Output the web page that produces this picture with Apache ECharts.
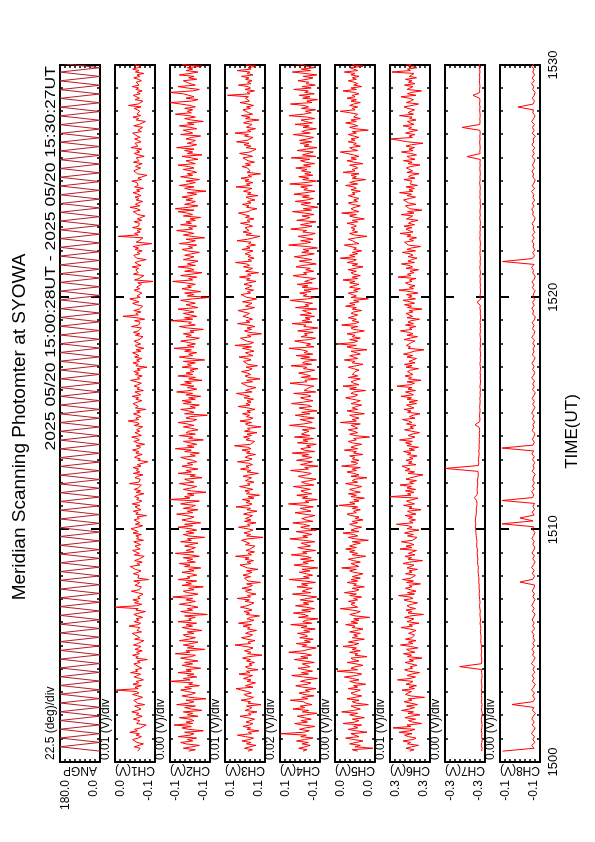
<!DOCTYPE html>
<html><head><meta charset="utf-8">
<script src="https://cdn.jsdelivr.net/npm/echarts@6/dist/echarts.min.js"></script>
<style>
html,body{margin:0;padding:0;background:#fff;width:595px;height:842px;overflow:hidden;}
#chart{position:absolute;left:0;top:0;width:842px;height:595px;transform-origin:0 0;transform:translate(0,842px) rotate(-90deg);background:#fff;}
</style></head><body><div id="chart"></div>
<script>
// ---- text ----
const titleText = 'Meridian Scanning Photomter at SYOWA';
const subtitleText = '2025 05/20 15:00:28UT - 2025 05/20 15:30:27UT';
const timeAxisName = 'TIME(UT)';
const timeTickLabels = ['1500', '1510', '1520', '1530'];
const axisNames = ['ANGP', 'CH1(V)', 'CH2(V)', 'CH3(V)', 'CH4(V)', 'CH5(V)', 'CH6(V)', 'CH7(V)', 'CH8(V)'];
const scaleLabels = ['22.5 (deg)/div', '0.01 (V)/div', '0.00 (V)/div', '0.01 (V)/div', '0.02 (V)/div', '0.00 (V)/div', '0.01 (V)/div', '0.00 (V)/div', '0.00 (V)/div'];
const topTickLabels = ['180.0', '0.0', '-0.1', '0.1', '0.1', '0.0', '0.3', '-0.3', '-0.1'];
const bottomTickLabels = ['0.0', '-0.1', '-0.1', '0.1', '-0.1', '0.0', '0.3', '-0.3', '-0.1'];
// value ranges (ANGP in deg, channels in mV)
const axisMin = [0, -100, -130, 60, -80, 0, 260, -330, -130];
const axisMax = [180, 0, -100, 140, 80, 30, 340, -300, -100];
// record span, minutes after 15:00 UT
const recordStart = 0.467;
const recordEnd = 30.45;

// ---- data (uniformly sampled over the record) ----
const angp = [0,180,0,180,0,180,0,180,0,180,0,180,0,180,0,180,0,180,0,180,
0,180,0,180,0,180,0,180,0,180,0,180,0,180,0,180,0,180,0,180,
0,180,0,180,0,180,0,180,0,180,0,180,0,180,0,180,0,180,0,180,
0,180,0,180,0,180,0,180,0,180,0,180,0,180,0,180,0,180,0,180,
0,180,0,180,0,180,0,180,0,180,0,180,0,180,0,180,0,180,0,180,
0,180,0,180,0,180,0,180,0,180,0,180,0,180,0,180,0,180,0,180,
0,180,0,180,0,180,0,180,0,180,0,180,0,180,0,180,0,180,0,180,
0,180,0,180,0,180,0,180,0,180,0,180,0,180,0,180,0,180,0,180];

const ch1 = [-57,-52,-63,-48,-60,-71,-55,-50,-44,-58,-66,-53,-61,-37,-56,-49,-64,-59,-78,-54,
-51,-62,-46,-57,-68,-53,-60,-42,-55,-65,-58,-49,-74,-56,-61,-47,-52,-69,-57,-44,
-60,-54,-3,-58,-50,-66,-45,-59,-53,-71,-62,-48,-56,-64,-39,-57,-51,-67,-60,-55,
-47,-63,-56,-81,-52,-58,-44,-61,-54,-68,-50,-59,-65,-46,-57,-53,-72,-49,-62,-56,
-58,-43,-66,-55,-51,-62,-35,-57,-64,-48,-60,-53,-69,-56,-47,-61,-76,-52,-58,0,
-54,-67,-49,-59,-45,-63,-57,-52,-70,-56,-41,-61,-58,-66,-50,-55,-62,-47,-84,-57,
-53,-60,-46,-58,-65,-51,-56,-38,-62,-55,-68,-49,-59,-54,-73,-48,-61,-57,-44,-63,
-56,-50,-64,-59,-47,-71,-54,-60,-52,-66,-45,-58,-63,-40,-57,-69,-51,-62,-55,-48,
-61,-55,-79,-52,-58,-46,-65,-57,-50,-62,-43,-59,-67,-54,-60,-49,-56,-72,-53,-64,
-48,-58,-54,-66,-36,-60,-55,-63,-50,-57,-70,-46,-62,-53,-59,-45,-65,-56,-51,-82,
-57,-63,-49,-55,-68,-52,-60,-44,-58,-64,-53,-74,-56,-47,-61,-55,-42,-66,-59,-50,
-62,-54,-57,-69,-48,-61,-55,-33,-59,-52,-65,-57,-46,-63,-54,-77,-51,-58,-60,-45,
-56,-67,-52,-59,-43,-64,-58,-50,-71,-55,-61,-48,-57,-66,-53,-39,-62,-56,-68,-51,
-59,-47,-63,-55,-80,-52,-58,-45,-61,-54,-67,-49,-60,-57,-44,-65,-53,-72,-56,-50,
-64,-55,-48,-60,-57,-70,-51,-62,-46,-58,-53,-66,-41,-59,-56,-63,-49,-74,-55,-20,
-58,-52,-65,-47,-61,-56,-69,-53,-44,-60,-57,-37,-63,-55,-50,-67,-58,-48,-62,-54,
-51,-66,-57,-95,-49,-60,-55,-72,-46,-58,-63,-52,-59,-43,-65,-56,-50,-61,-78,-54,
-57,-47,-62,-55,-68,-50,-59,-45,-64,-92,-53,-60,-56,-70,-8,-58,-49,-63,-55,-66,
-44,-59,-54,-61,-48,-67,-56,-52,-75,-57,-60,-46,-63,-55,-38,-62,-51,-58,-69,-53,
-60,-50,-65,-57,-45,-62,-54,-71,-49,-58,-63,-55,-42,-66,-57,-52,-80,-56,-61,-47,
-55,-64,-51,-58,-68,-46,-60,-56,-53,-73,-59,-48,-62,-54,-67,-40,-57,-61,-50,-65,
-58,-49,-63,-55,-60,-44,-66,-57,-52,-69,-47,-61,-56,-76,-53,-59,-45,-64,-55,-51,
-62,-56,-48,-65,-34,-58,-54,-70,-50,-61,-57,-46,-63,-55,-68,-52,-59,-43,-60,-57,
-53,-66,-58,-47,-62,-55,-72,-51,-60,-44,-57,-64,-49,-59,-54,-67,-56,-41,-63,-58];

const ch2 = [-114,-119,-110,-116,-122,-112,-108,-117,-113,-120,-106,-115,-118,-111,-125,-114,-109,-116,-103,-117,
-112,-118,-115,-107,-121,-113,-117,-110,-124,-116,-111,-119,-105,-114,-118,-112,-127,-115,-109,-116,
-119,-113,-108,-116,-111,-122,-114,-117,-100,-115,-110,-120,-113,-118,-106,-116,-112,-123,-115,-109,
-117,-111,-121,-114,-108,-116,-119,-104,-115,-112,-126,-113,-118,-110,-116,-121,-107,-114,-119,-112,
-110,-118,-113,-124,-115,-109,-117,-112,-120,-106,-116,-114,-119,-111,-128,-115,-108,-117,-113,-121,
-116,-107,-114,-119,-112,-117,-102,-115,-121,-113,-110,-118,-114,-125,-109,-116,-112,-120,-106,-115,
-113,-120,-116,-109,-118,-114,-123,-111,-115,-107,-119,-113,-117,-110,-122,-115,-104,-118,-112,-116,
-119,-111,-115,-121,-108,-116,-113,-126,-114,-110,-118,-112,-120,-115,-106,-117,-111,-123,-114,-109,
-115,-118,-112,-105,-117,-113,-121,-110,-116,-119,-108,-114,-122,-100,-115,-111,-118,-113,-127,-116,
-110,-116,-120,-113,-107,-118,-114,-111,-124,-115,-119,-106,-116,-112,-121,-114,-109,-117,-113,-120,
-117,-112,-108,-119,-115,-122,-111,-116,-104,-118,-113,-120,-115,-110,-125,-114,-117,-107,-119,-112,
-114,-121,-116,-110,-118,-113,-106,-117,-120,-112,-115,-128,-111,-118,-114,-108,-119,-115,-122,-110,
-116,-109,-119,-114,-123,-112,-117,-105,-115,-120,-113,-118,-108,-116,-111,-124,-114,-119,-106,-117,
-112,-118,-115,-121,-109,-116,-113,-119,-110,-126,-115,-107,-117,-114,-120,-111,-116,-103,-118,-113,
-119,-114,-108,-117,-122,-112,-116,-110,-118,-115,-125,-113,-107,-119,-114,-116,-101,-117,-111,-120,
-115,-110,-118,-113,-106,-121,-116,-112,-119,-114,-108,-117,-130,-113,-118,-111,-123,-115,-109,-116,
-113,-119,-112,-102,-117,-114,-120,-108,-116,-124,-111,-118,-115,-106,-119,-113,-117,-121,-110,-115,
-118,-111,-116,-122,-113,-109,-117,-114,-120,-107,-115,-119,-112,-126,-116,-110,-118,-113,-105,-117,
-114,-120,-108,-116,-112,-119,-115,-123,-110,-117,-113,-106,-118,-104,-114,-121,-111,-116,-119,-112,
-117,-109,-115,-120,-113,-127,-116,-111,-118,-107,-114,-119,-112,-122,-115,-108,-117,-113,-120,-116,
-110,-118,-114,-106,-119,-115,-112,-121,-116,-109,-124,-113,-117,-111,-118,-105,-115,-120,-113,-117,
-119,-112,-116,-123,-108,-117,-114,-110,-120,-115,-107,-118,-113,-125,-116,-111,-119,-114,-104,-116,
-113,-117,-111,-119,-115,-108,-100,-116,-121,-112,-118,-114,-110,-100,-117,-122,-113,-106,-119,-115,
-116,-110,-120,-114,-118,-107,-115,-121,-112,-117,-113,-124,-109,-116,-119,-111,-118,-114,-105,-117];

const ch3 = [94,85,101,90,78,97,88,106,92,83,99,115,87,93,72,96,89,104,91,84,
98,90,81,95,110,88,93,76,100,91,86,97,68,94,89,108,92,83,96,102,
87,95,91,118,84,99,90,79,96,88,103,93,85,112,90,97,74,94,99,86,
92,81,97,89,105,93,66,95,88,101,91,84,98,120,89,94,80,96,107,90,
85,99,92,77,95,90,104,87,113,93,82,96,89,71,98,91,102,86,94,109,
96,88,82,100,91,116,89,95,78,93,99,87,106,92,85,97,69,94,90,101,
89,104,93,86,97,74,95,91,110,88,96,83,100,92,119,87,94,81,98,90,
93,80,99,91,87,107,94,64,97,89,102,92,84,96,113,90,95,78,101,88,
99,91,85,103,93,76,96,89,118,92,86,98,90,105,82,94,71,97,91,100,
84,97,111,90,95,82,99,93,87,104,91,73,96,88,109,92,98,85,93,115,
92,86,100,94,79,97,90,106,88,95,121,89,93,81,98,91,103,87,96,76,
101,90,95,68,93,99,87,110,92,84,97,91,105,89,96,80,94,114,90,98,
88,96,83,102,91,94,117,86,99,90,78,95,92,107,85,97,70,93,100,89,
95,107,91,86,98,75,94,90,103,88,96,112,84,93,99,82,91,105,87,120,
90,83,97,93,109,88,95,67,92,101,87,96,80,94,115,90,98,85,93,104,
97,91,88,114,94,81,99,92,86,105,90,77,96,93,108,89,95,83,100,91,
86,102,93,78,97,90,111,88,95,73,99,92,85,103,91,96,119,87,94,82,
94,89,100,92,84,106,90,97,79,93,88,116,95,91,70,98,87,104,92,96,
100,85,93,109,90,96,82,99,91,87,113,94,89,76,97,92,105,88,95,80,
91,98,74,95,88,103,93,86,118,90,97,84,100,92,108,87,94,69,96,90,
87,95,106,89,99,81,94,91,104,85,96,111,90,93,78,98,88,102,92,117,
96,90,84,101,93,120,88,95,79,97,91,86,103,94,72,99,90,107,85,93,
92,104,89,97,83,95,110,91,87,99,93,135,90,96,81,100,89,94,113,88,
95,86,99,92,107,84,96,90,116,88,94,78,98,91,103,87,95,71,97,93];

const ch4 = [-12,-28,5,-20,-41,-8,-33,14,-18,-52,-3,-25,78,-15,-37,2,-22,-60,-10,21,
-30,-5,-45,-17,11,-26,-68,-9,-35,28,-19,-1,-48,-23,-13,39,-31,-7,-56,-16,
4,-38,-21,-64,-11,17,-29,-44,-2,-24,-70,-14,33,-34,-6,-50,-19,8,-40,-26,
-9,-57,-17,23,-32,-3,-46,-22,45,-12,-36,-65,-8,-27,15,-42,-18,-53,1,-30,
-21,10,-39,-15,-61,-4,-28,37,-47,-11,-23,-72,6,-33,-16,26,-44,-7,-58,-25,
18,-35,-13,-54,-1,-29,-67,-20,30,-43,-9,-24,-49,12,-31,-6,-62,-18,43,-37,
-14,-50,-26,3,-40,-8,-71,-19,24,-33,-12,-56,-2,-45,-22,35,-28,-10,-63,-17,
9,-42,-24,-5,-59,-15,41,-31,-11,-48,-20,16,-66,-27,-3,-39,-14,29,-52,-23,
-7,-33,-60,-16,20,-44,-25,-1,-53,-13,46,-36,-21,-69,-9,-30,13,-47,-18,-4,
-41,-11,27,-55,-23,-6,-38,-64,-15,7,-29,-45,-10,38,-34,-19,-72,-2,-27,-50,
14,-22,-47,-8,-35,31,-58,-17,-3,-43,-26,-65,10,-32,-12,-54,22,-39,-6,-20,
-36,-9,-61,-24,42,-14,-49,-28,-1,-57,-18,19,-40,-7,-68,-25,4,-46,-30,34,
-13,-52,-21,-2,-44,-31,25,-63,-16,-8,-37,-55,-11,40,-28,-19,-70,-5,-42,-23,
6,-34,-59,-14,-27,36,-46,-10,-22,-66,-3,-39,15,-51,-17,-30,-7,44,-56,-25,
-43,-12,21,-37,-62,-4,-29,-18,-53,9,-33,-71,-15,-24,32,-48,-9,-40,-20,-58,
-1,-45,-26,-10,-67,18,-35,-21,-50,-6,39,-31,-60,-13,-28,1,-44,-16,-73,-8,
-32,11,-49,-19,-38,-62,-5,28,-27,-14,-55,-23,-41,16,-9,-65,-30,3,-47,-15,
23,-24,-57,-7,-36,-12,-69,-29,45,-18,-43,-3,-52,-22,8,-38,-61,-11,-26,37,
-17,-48,-2,-33,-64,13,-25,-40,-8,-56,-20,30,-46,-13,-71,-31,-4,-42,19,-27,
-54,-9,-37,24,-21,-60,-15,-30,-3,-49,41,-24,-66,-11,-35,5,-51,-19,-44,-6,
-28,17,-43,-14,-58,-23,-2,-39,35,-63,-10,-32,-53,12,-26,-68,-16,-36,-1,-47,
2,-31,-55,-18,27,-41,-7,-24,-65,-12,-37,20,-50,-21,-4,-59,-29,44,-14,-45,
-22,-62,-6,-34,-16,38,-48,-27,-70,-11,-40,3,-57,-19,-33,25,-45,-9,-61,-24,
-35,8,-28,-52,-13,-67,-20,31,-42,-5,-58,-25,-15,42,-38,-64,-10,-30,-49,15];

const ch5 = [13,17,1.5,15,11,19,14,9,16,22,12,15,18,6,14,20,13,16,10,24,
15,12,17,8,14,19,13,25,16,11,15,18,5,14,17,12,21,15,10,16,
18,14,11,20,13,16,7,15,19,12,17,23,14,10,16,28.5,13,18,15,9,
14,21,12,16,18,6,15,13,19,11,17,14,24,16,12,20,15,8,17,13,
16,11,19,14,9,17,15,22,13,18,12,16,4,15,19,14,11,17,26,13,
12,18,15,20,13,16,10,19,14,23,15,12,17,8,16,14,21,13,18,11,
17,13,9,16,19,14,25,12,15,18,11,16,20,14,7,17,13,19,15,22,
14,19,16,11,17,5,15,20,13,16,24,12,18,15,10,16,19,13,17,9,
15,12,18,21,14,16,11,17,13,27,15,19,12,16,8,18,14,20,11,16,
19,14,10,16,22,13,17,15,6,18,12,16,21,14,17,11,25,15,13,18,
12,17,15,19,9,16,14,23,13,18,15,10,17,20,14,16,4,15,19,13,
16,20,13,15,18,11,26,14,17,12,16,19,8,15,21,13,17,14,10,18,
14,11,17,22,15,13,18,16,7,19,14,24,12,16,18,15,11,20,13,17,
18,15,12,16,20,14,9,17,15,23,13,16,19,11,14,18,6,16,21,14,
28,16,13,19,11,17,15,21,14,8,16,18,13,25,15,12,17,14,20,16,
13,18,16,10,17,14,22,15,19,12,16,5,18,14,17,20,13,16,11,19,
16,12,19,15,24,13,17,11,16,18,14,20,15,9,17,13,21,16,14,26,
15,19,13,17,10,16,14,18,23,12,15,17,20,14,6,16,19,13,17,15,
18,14,16,21,13,17,8,15,19,14,25,12,16,18,15,11,17,20,13,16,
12,16,20,15,17,11,18,14,16,22,13,19,15,7,17,14,18,12,24,15,
17,13,15,19,9,16,21,14,18,12,16,15,26,13,17,19,11,16,14,20,
15,18,12,16,20,14,17,5,15,19,13,16,22,14,18,11,16,17,13,19,
26,15,17,13,19,16,11,18,14,21,15,17,12,16,24,14,18,10,16,13,
16,20,14,17,12,18,15,23,13,16,19,9,17,14,20,15,12,18,16,14];

const ch6 = [301,292,308,297,283,305,299,314,294,288,303,311,296,322,300,290,334,298,306,277,
295,303,289,310,299,280,304,293,317,301,291,307,285,298,312,296,303,271,299,309,
304,297,316,291,302,287,308,299,294,325,300,289,306,297,281,303,311,295,300,286,
298,310,293,302,276,305,297,313,290,301,307,284,299,319,294,303,288,309,296,300,
291,303,307,288,300,318,295,302,282,306,298,292,311,299,273,304,296,308,289,301,
306,297,285,303,312,294,300,323,291,305,288,299,309,296,302,279,307,293,315,298,
300,289,309,296,302,285,306,298,292,314,301,275,304,297,310,290,303,299,287,320,
296,308,292,301,317,295,299,286,305,293,311,300,282,306,296,303,327,294,301,289,
303,295,310,288,299,305,278,302,296,313,291,300,307,294,284,340,298,305,292,309,
289,306,297,320,293,301,287,308,299,295,274,304,291,310,300,297,316,288,303,296,
308,294,301,286,305,298,313,291,302,283,306,297,309,295,321,299,290,304,296,281,
297,311,293,300,288,307,296,303,315,290,301,294,280,305,298,312,292,300,307,287,
302,285,306,297,318,293,300,309,289,304,296,326,299,291,306,278,303,297,310,294,
293,305,299,283,308,296,311,290,302,298,287,306,295,313,301,292,272,304,299,307,
305,297,290,312,300,285,306,294,303,319,296,301,288,309,293,304,298,281,306,295,
299,308,294,302,276,305,297,311,291,300,314,289,303,296,307,284,299,322,293,301,
290,303,309,296,301,288,324,298,305,292,300,283,308,295,302,317,291,304,297,286,
304,294,300,315,289,306,297,279,303,299,311,293,301,287,306,298,320,294,302,308,
296,312,291,303,298,284,307,300,295,318,292,305,276,301,297,309,288,303,299,313,
301,289,306,297,321,294,302,291,308,285,300,304,296,312,290,303,298,282,306,295,
293,307,299,280,304,296,313,290,301,306,287,299,317,294,302,291,308,297,274,305,
306,338,295,302,290,309,298,285,303,297,314,292,300,305,288,301,296,321,293,304,
298,291,304,312,296,283,307,299,293,302,318,288,305,297,277,306,300,294,311,290,
303,296,309,287,301,297,292,336,299,305,286,303,298,316,294,300,307,281,302,296];

const ch7 = [-327.5,-327.8,-327.2,-327.6,-327.9,-327.4,-327.7,-327.3,-327.6,-327.8,-327.5,-327.2,-327.6,-327.9,-327.4,-327.5,-327.8,-327.3,-327.6,-327.4,
-327.6,-327.3,-327.7,-327.5,-327.2,-327.6,-327.8,-327.4,-327.5,-311.0,-327.3,-327.6,-327.4,-327.1,-327.5,-327.2,-327.4,-327.0,-326.8,-327.1,
-326.8,-326.5,-326.9,-326.6,-326.3,-326.7,-326.4,-326.2,-326.5,-326.1,-325.9,-326.3,-326.0,-325.8,-325.6,-325.9,-325.5,-325.7,-325.3,-325.5,
-325.2,-325.0,-324.8,-325.1,-324.6,-324.4,-324.7,-324.3,-324.1,-324.4,-323.9,-323.7,-324.0,-323.6,-323.4,-323.2,-323.0,-322.8,-323.1,-322.7,
-322.9,-323.3,-323.6,-323.4,-323.8,-324.0,-323.7,-322.0,-324.1,-324.3,-324.0,-324.4,-324.6,-324.3,-324.8,-325.0,-324.7,-300.0,-325.1,-325.3,
-325.0,-325.4,-325.6,-325.3,-325.7,-325.5,-325.8,-325.6,-325.9,-325.7,-326.0,-325.8,-322.5,-326.0,-326.2,-325.9,-326.1,-326.3,-326.0,-326.2,
-326.4,-326.1,-326.5,-326.3,-326.6,-326.2,-326.5,-326.7,-326.4,-326.6,-326.3,-326.7,-326.5,-326.2,-326.6,-326.4,-326.8,-326.5,-326.3,-326.6,
-326.4,-326.7,-326.5,-326.2,-326.6,-326.4,-326.7,-326.3,-326.5,-326.8,-326.4,-326.6,-326.2,-326.5,-324.0,-326.6,-326.3,-326.5,-326.7,-326.4,
-326.6,-326.3,-326.5,-326.2,-326.6,-326.4,-326.1,-326.5,-326.3,-326.6,-326.4,-326.2,-326.5,-326.3,-326.6,-326.4,-326.1,-326.4,-326.2,-326.5,
-326.3,-326.6,-326.4,-326.1,-326.5,-326.2,-326.4,-326.6,-326.3,-326.5,-326.1,-326.4,-326.2,-326.5,-326.3,-326.0,-326.4,-326.2,-326.5,-326.3,
-326.1,-326.4,-326.2,-326.5,-316.5,-326.3,-326.1,-326.4,-326.2,-326.0,-326.3,-326.1,-326.4,-326.2,-312.8,-326.0,-326.3,-326.1,-326.4,-326.2,
-326.0,-326.3,-325.9,-326.2,-326.0,-321.0,-326.1,-325.9,-326.2,-326.0,-325.8,-326.1,-325.9,-326.2,-326.0,-325.8,-326.1,-325.9,-326.0,-326.2];

const ch8 = [-102.0,-125.5,-123.8,-126.2,-124.6,-125.9,-123.5,-125.2,-126.4,-124.1,-125.7,-123.9,-125.0,-126.6,-124.3,-125.4,-109.0,-124.8,-126.1,-124.5,
-125.8,-123.7,-125.3,-126.5,-124.2,-125.6,-124.0,-126.2,-124.7,-125.9,-123.6,-125.1,-126.3,-124.4,-125.5,-123.9,-125.8,-124.6,-126.0,-124.9,
-125.4,-123.8,-126.1,-124.5,-125.7,-124.1,-125.2,-126.4,-124.3,-125.6,-123.9,-125.0,-126.2,-124.7,-125.8,-124.2,-125.5,-126.0,-115.0,-124.6,
-125.9,-124.3,-125.6,-123.7,-125.2,-126.3,-124.5,-125.8,-124.0,-125.4,-126.1,-124.6,-125.7,-123.9,-125.3,-126.2,-124.4,-125.1,-101.5,-124.8,
-115.0,-125.6,-124.2,-125.9,-124.7,-126.0,-101.5,-124.5,-125.3,-123.8,-125.7,-124.3,-125.9,-124.6,-125.2,-126.4,-124.1,-125.5,-124.8,-126.1,
-124.4,-125.7,-123.9,-125.3,-101.5,-124.6,-125.8,-124.2,-125.5,-126.3,-124.0,-125.4,-124.7,-126.0,-124.3,-125.6,-123.8,-125.1,-126.2,-124.5,
-125.8,-124.1,-125.4,-126.5,-124.3,-125.7,-124.6,-125.9,-123.7,-125.2,-126.1,-124.4,-125.6,-124.0,-125.3,-126.4,-124.2,-125.5,-124.8,-126.0,
-124.6,-125.9,-123.8,-125.4,-126.2,-124.3,-125.6,-124.1,-125.8,-126.5,-124.5,-125.2,-123.9,-125.7,-124.4,-126.0,-124.7,-125.3,-126.3,-124.2,
-125.5,-124.0,-125.8,-126.4,-124.6,-125.1,-123.7,-125.6,-102.0,-124.3,-125.9,-124.5,-126.2,-124.8,-125.4,-123.9,-125.7,-124.2,-126.1,-124.9,
-125.3,-124.1,-125.7,-126.3,-124.5,-125.0,-123.8,-125.6,-124.3,-126.0,-124.7,-125.4,-123.6,-125.9,-124.2,-125.5,-126.4,-124.6,-125.2,-124.0,
-125.8,-124.3,-125.5,-126.2,-124.0,-125.7,-124.5,-126.1,-123.9,-125.3,-124.8,-126.5,-124.2,-125.6,-124.4,-125.9,-123.7,-125.2,-126.3,-124.6,
-125.1,-113.5,-124.7,-125.9,-124.2,-125.6,-126.4,-124.5,-125.3,-123.8,-125.7,-124.1,-126.0,-124.6,-125.4,-123.9,-125.8,-124.3,-125.5,-124.9];

const seriesValues = [angp, ch1, ch2, ch3, ch4, ch5, ch6, ch7, ch8];

// ---- build option ----
function withTimes(vals) {
  const dt = (recordEnd - recordStart) / (vals.length - 1);
  return vals.map((v, i) => [recordStart + i * dt, v]);
}
const FONT = 'Liberation Sans, Arial, Helvetica, sans-serif';
const nP = seriesValues.length;
const gLeft = 80, gWidth = 697, gTop0 = 60, gStep = 55, gH = 40;
const grids = [], xAxes = [], yAxes = [], series = [], graphics = [];

for (let i = 0; i < nP; i++) {
  const top = gTop0 + gStep * i;
  grids.push({ left: gLeft, width: gWidth, top: top, height: gH, containLabel: false });
  const isLast = i === nP - 1;
  const xBase = {
    gridIndex: i, type: 'value', min: 0, max: 30, interval: 10,
    axisLine: { show: true, onZero: false, lineStyle: { color: '#000', width: 2 } },
    axisTick: { show: true, inside: true, length: 9, lineStyle: { color: '#000', width: 2 } },
    minorTick: { show: true, splitNumber: 10, length: 3, lineStyle: { color: '#000', width: 1.5 } },
    splitLine: { show: false }, minorSplitLine: { show: false }
  };
  xAxes.push(Object.assign({}, xBase, {
    position: 'bottom',
    axisLabel: { show: isLast, margin: 7, color: '#000', fontSize: 13, fontFamily: FONT,
      formatter: v => timeTickLabels[Math.round(v / 10)] },
    name: isLast ? timeAxisName : '', nameLocation: 'middle', nameGap: 24, nameMoveOverlap: false,
    nameTextStyle: { color: '#000', fontSize: 17, fontFamily: FONT, padding: [0, 36, 0, 0] }
  }));
  xAxes.push(Object.assign({}, xBase, { position: 'top', axisLabel: { show: false } }));

  const mn = axisMin[i], mx = axisMax[i], iv = (mx - mn) / 8;
  const yBase = {
    gridIndex: i, type: 'value', min: mn, max: mx, interval: iv,
    splitLine: { show: false }
  };
  yAxes.push(Object.assign({}, yBase, {
    position: 'left',
    axisLine: { show: true, onZero: false, lineStyle: { color: '#000', width: 2 } },
    axisTick: { show: true, inside: true, length: 3, lineStyle: { color: '#000', width: 1.5 } },
    axisLabel: { show: true, margin: 18, color: '#000', fontSize: 12, fontFamily: FONT, verticalAlign: 'top',
      formatter: v => (Math.abs(v - mx) < 1e-6 ? topTickLabels[i] : '') },
    name: axisNames[i], nameLocation: 'middle', nameRotate: 90, nameGap: 2, nameMoveOverlap: false,
    nameTextStyle: { color: '#000', fontSize: 12, fontFamily: FONT }
  }));
  yAxes.push(Object.assign({}, yBase, {
    position: 'left',
    axisLine: { show: false }, axisTick: { show: false },
    axisLabel: { show: true, margin: 18, color: '#000', fontSize: 12, fontFamily: FONT, verticalAlign: 'bottom',
      formatter: v => (Math.abs(v - mn) < 1e-6 ? bottomTickLabels[i] : '') }
  }));
  yAxes.push(Object.assign({}, yBase, {
    position: 'right',
    axisLine: { show: true, onZero: false, lineStyle: { color: '#000', width: 2 } },
    axisTick: { show: true, inside: true, length: 3, lineStyle: { color: '#000', width: 1.5 } },
    axisLabel: { show: false }
  }));

  series.push({
    type: 'line', xAxisIndex: 2 * i, yAxisIndex: 3 * i,
    data: withTimes(seriesValues[i]),
    showSymbol: false, symbol: 'none', clip: true,
    lineStyle: { width: 1, color: i === 0 ? '#b41e28' : '#ff0000' },
    emphasis: { disabled: true }
  });

  graphics.push({
    type: 'text', left: gLeft + 2, top: top - 15,
    style: { text: scaleLabels[i], fill: '#000', font: '12px ' + FONT }
  });
}

graphics.push({
  type: 'text', x: 415, y: 20,
  style: { text: titleText, fill: '#000', font: '19px ' + FONT, textAlign: 'center', textVerticalAlign: 'middle' }
});
graphics.push({
  type: 'text', x: 776, y: 51, scaleX: 1.17,
  style: { text: subtitleText, fill: '#000', font: '15px ' + FONT, textAlign: 'right', textVerticalAlign: 'middle' }
});

const chart = echarts.init(document.getElementById('chart'), null, { renderer: 'canvas', width: 842, height: 595 });
chart.setOption({
  animation: false,
  backgroundColor: '#fff',
  grid: grids, xAxis: xAxes, yAxis: yAxes, series: series,
  graphic: graphics
});
</script></body></html>
